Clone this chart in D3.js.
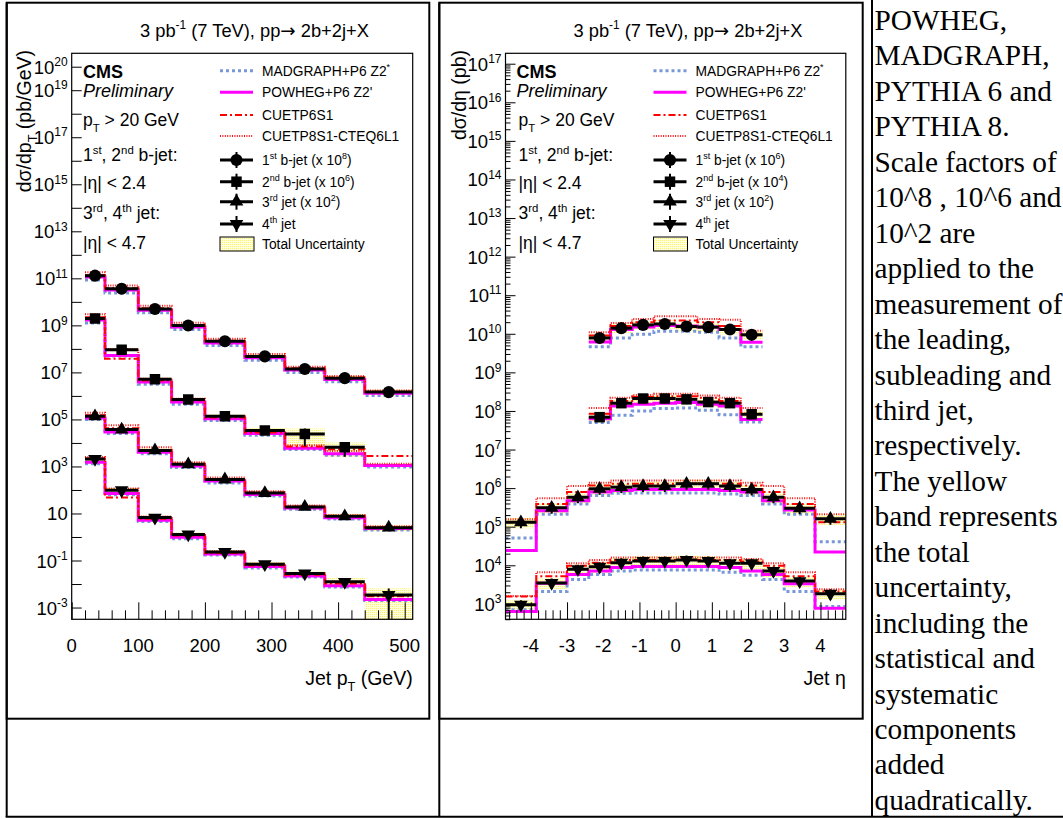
<!DOCTYPE html>
<html><head><meta charset="utf-8">
<script src="https://cdn.jsdelivr.net/npm/d3@7"></script>
<style>
html,body{margin:0;padding:0;background:#fff;overflow:hidden;}
svg{display:block;}
</style></head><body>
<svg id="c" width="1063" height="818" font-family='"Liberation Sans",Arial,Helvetica,sans-serif'></svg>
<script>
// ---------------- DATA ----------------
// Left panel: jet pT (GeV)
const ptEdges = [20, 50, 100, 150, 200, 260, 320, 380, 440, 512];
const ptJet1Data     = [1.3e11, 3.6e10, 5.0e9, 9.8e8, 2.1e8, 4.8e7, 1.4e7, 5.7e6, 1.45e6];
const ptJet1Unc      = [0.15, 0.15, 0.15, 0.15, 0.15, 0.18, 0.2, 0.25, 0.3];
const ptJet1Madgraph = [8.5e10, 2.4e10, 3.4e9, 6.6e8, 1.4e8, 3.3e7, 9.8e6, 4.0e6, 1.05e6];
const ptJet1Powheg   = [1.15e11, 3.2e10, 4.4e9, 8.6e8, 1.8e8, 4.2e7, 1.25e7, 5.0e6, 1.3e6];
const ptJet1P6       = [1.35e11, 3.8e10, 5.3e9, 1.0e9, 2.2e8, 5.0e7, 1.5e7, 6.0e6, 1.5e6];
const ptJet1P8       = [1.8e11, 5.0e10, 6.8e9, 1.3e9, 2.7e8, 6.0e7, 1.75e7, 7.0e6, 1.7e6];

const ptJet2Data     = [1.95e9, 9.1e7, 5.1e6, 7.1e5, 1.35e5, 3.4e4, 2.4e4, 6.5e3, null];
const ptJet2Unc      = [0.15, 0.2, 0.2, 0.2, 0.2, 0.25, 0.7, 0.6, 0];
const ptJet2Madgraph = [1.25e9, 5.0e7, 3.1e6, 4.4e5, 9.1e4, 2.1e4, 5.3e3, 3.0e3, 9.5e2];
const ptJet2Powheg   = [1.7e9, 5.2e7, 3.9e6, 5.5e5, 1.07e5, 2.5e4, 6.0e3, 3.5e3, 1.1e3];
const ptJet2P6       = [2.2e9, 3.8e7, 4.5e6, 6.5e5, 1.2e5, 2.8e4, 7.0e3, 5.4e3, 2.8e3];
const ptJet2P8       = [3.0e9, 1.0e8, 5.4e6, 7.6e5, 1.35e5, 3.2e4, 7.9e3, 4.5e3, 1.3e3];

const ptJet3Data     = [1.35e5, 3.7e4, 4.8e3, 1.23e3, 2.8e2, 74, 19, 7.6, 2.5];
const ptJet3Unc      = [0.2, 0.2, 0.2, 0.2, 0.2, 0.2, 0.2, 0.25, 0.3];
const ptJet3Madgraph = [1.0e5, 2.5e4, 3.5e3, 9.0e2, 2.0e2, 55, 15, 5.8, 2.0];
const ptJet3Powheg   = [1.15e5, 2.9e4, 4.0e3, 1.05e3, 2.4e2, 64, 17, 6.6, 2.3];
const ptJet3P6       = [1.5e5, 4.2e4, 5.0e3, 1.3e3, 2.9e2, 78, 20, 7.8, 2.6];
const ptJet3P8       = [1.9e5, 5.6e4, 6.5e3, 1.5e3, 3.4e2, 88, 22, 8.5, 2.9];

const ptJet4Data     = [2.1e3, 97, 6.7, 1.28, 0.23, 0.07, 0.028, 0.0124, 0.0034];
const ptJet4Unc      = [0.2, 0.25, 0.2, 0.2, 0.2, 0.2, 0.3, 0.45, 0.92];
const ptJet4Madgraph = [1.3e3, 62, 4.6, 0.85, 0.17, 0.048, 0.020, 0.0075, 0.0020];
const ptJet4Powheg   = [1.5e3, 70, 5.2, 0.98, 0.19, 0.055, 0.022, 0.0085, 0.0022];
const ptJet4P6       = [2.2e3, 48, 6.0, 1.15, 0.21, 0.062, 0.025, 0.0105, 0.0030];
const ptJet4P8       = [2.5e3, 115, 7.5, 1.35, 0.25, 0.072, 0.029, 0.012, 0.0033];

// Right panel: jet eta
const etaEdgesB = [-2.4, -1.8, -1.2, -0.6, 0, 0.6, 1.2, 1.8, 2.4];
const etaEdgesJ = [-4.7, -3.85, -3.0, -2.4, -1.8, -1.2, -0.6, 0, 0.6, 1.2, 1.8, 2.4, 3.0, 3.85, 4.7];

const etaJet1Data     = [7.8e9, 1.4e10, 1.7e10, 1.8e10, 1.54e10, 1.49e10, 1.29e10, 9.4e9];
const etaJet1Unc      = [0.25, 0.25, 0.25, 0.25, 0.25, 0.25, 0.25, 0.25];
const etaJet1Madgraph = [4.6e9, 7.8e9, 9.8e9, 1.17e10, 1.17e10, 1.1e10, 7.8e9, 4.6e9];
const etaJet1Powheg   = [6.1e9, 1.29e10, 1.5e10, 1.63e10, 1.6e10, 1.5e10, 1.29e10, 6.0e9];
const etaJet1P6       = [9.0e9, 1.6e10, 2.0e10, 2.2e10, 2.2e10, 2.0e10, 1.6e10, 9.5e9];
const etaJet1P8       = [1.1e10, 1.9e10, 2.4e10, 2.85e10, 2.85e10, 2.4e10, 2.3e10, 1.2e10];

const etaJet2Data     = [6.9e7, 1.59e8, 2.1e8, 2.1e8, 2.0e8, 1.7e8, 1.59e8, 8.2e7];
const etaJet2Unc      = [0.25, 0.25, 0.25, 0.25, 0.25, 0.25, 0.25, 0.25];
const etaJet2Madgraph = [5.0e7, 7.7e7, 1.0e8, 1.15e8, 1.2e8, 1.05e8, 8.0e7, 5.2e7];
const etaJet2Powheg   = [6.3e7, 1.35e8, 1.5e8, 1.58e8, 1.65e8, 1.5e8, 1.35e8, 6.0e7];
const etaJet2P6       = [8.5e7, 1.8e8, 2.3e8, 2.4e8, 2.4e8, 2.2e8, 1.8e8, 8.5e7];
const etaJet2P8       = [1.2e8, 2.2e8, 2.6e8, 2.8e8, 2.8e8, 2.5e8, 2.2e8, 1.2e8];

const etaJet3Data     = [1.3e5, 3.1e5, 5.8e5, 9.6e5, 1.06e6, 1.13e6, 1.13e6, 1.3e6, 1.3e6, 1.13e6, 9.2e5, 5.8e5, 3.0e5, 1.6e5];
const etaJet3Unc      = [0.3, 0.3, 0.3, 0.3, 0.3, 0.3, 0.3, 0.3, 0.3, 0.3, 0.3, 0.3, 0.3, 0.3];
const etaJet3Madgraph = [5.1e4, 2.1e5, 3.9e5, 6.4e5, 7.4e5, 7.5e5, 7.5e5, 7.5e5, 7.5e5, 7.0e5, 6.4e5, 3.9e5, 2.1e5, 4.1e4];
const etaJet3Powheg   = [2.4e4, 2.6e5, 4.7e5, 7.9e5, 8.7e5, 9.2e5, 9.2e5, 9.2e5, 9.2e5, 8.7e5, 7.9e5, 4.7e5, 2.7e5, 2.2e4];
const etaJet3P6       = [1.3e5, 3.9e5, 7.9e5, 1.17e6, 1.3e6, 1.3e6, 1.3e6, 1.3e6, 1.3e6, 1.3e6, 1.17e6, 7.9e5, 3.9e5, 1.3e5];
const etaJet3P8       = [1.55e5, 5.5e5, 1.13e6, 1.38e6, 1.58e6, 1.58e6, 1.58e6, 1.58e6, 1.58e6, 1.58e6, 1.38e6, 1.13e6, 5.5e5, 2.1e5];

const etaJet4Data     = [950, 3.5e3, 7.9e3, 9.2e3, 1.17e4, 1.3e4, 1.3e4, 1.38e4, 1.3e4, 1.13e4, 1.13e4, 7.1e3, 3.9e3, 1.84e3];
const etaJet4Unc      = [0.3, 0.3, 0.3, 0.3, 0.3, 0.3, 0.3, 0.3, 0.3, 0.3, 0.3, 0.3, 0.3, 0.3];
const etaJet4Madgraph = [700, 2.1e3, 4.3e3, 5.8e3, 7.1e3, 7.5e3, 7.5e3, 7.5e3, 7.5e3, 6.6e3, 5.5e3, 4.3e3, 2.1e3, 850];
const etaJet4Powheg   = [630, 3.4e3, 5.8e3, 7.1e3, 8.7e3, 9.3e3, 9.3e3, 9.3e3, 9.3e3, 8.7e3, 7.1e3, 5.8e3, 3.3e3, 770];
const etaJet4P6       = [1.56e3, 5.2e3, 9.7e3, 1.17e4, 1.38e4, 1.38e4, 1.38e4, 1.38e4, 1.38e4, 1.38e4, 1.25e4, 9.7e3, 5.2e3, 2.1e3];
const etaJet4P8       = [1.6e3, 6.6e3, 1.13e4, 1.38e4, 1.6e4, 1.6e4, 1.6e4, 1.6e4, 1.6e4, 1.6e4, 1.45e4, 1.13e4, 6.6e3, 2.4e3];

// Tick labels
const ptXTicks = [0, 100, 200, 300, 400, 500];
const ptYLabelExps = [20, 19, 17, 15, 13, 11, 9, 7, 5, 3, 1, -1, -3];
const etaXTicks = [-4, -3, -2, -1, 0, 1, 2, 3, 4];
const etaYLabelExps = [17, 16, 15, 14, 13, 12, 11, 10, 9, 8, 7, 6, 5, 4, 3];

// Texts
const headerText = "3 pb^{-1} (7 TeV), pp\u2192 2b+2j+X";
const mcLabels = ["MADGRAPH+P6 Z2^{*}", "POWHEG+P6 Z2'", "CUETP6S1", "CUETP8S1-CTEQ6L1"];
const ptDataLabels = ["1^{st} b-jet (x 10^{8})", "2^{nd} b-jet (x 10^{6})", "3^{rd} jet (x 10^{2})", "4^{th} jet"];
const etaDataLabels = ["1^{st} b-jet (x 10^{6})", "2^{nd} b-jet (x 10^{4})", "3^{rd} jet (x 10^{2})", "4^{th} jet"];
const uncLabel = "Total Uncertainty";
const infoLines = ["p_{T} > 20 GeV", "1^{st}, 2^{nd} b-jet:", "|\u03B7| < 2.4", "3^{rd}, 4^{th} jet:", "|\u03B7| < 4.7"];
const captionLines = ["POWHEG,", "MADGRAPH,", "PYTHIA 6 and", "PYTHIA 8.", "Scale factors of",
  "10^8 , 10^6 and", "10^2 are", "applied to the", "measurement of", "the leading,",
  "subleading and", "third jet,", "respectively.", "The yellow", "band represents",
  "the total", "uncertainty,", "including the", "statistical and", "systematic",
  "components", "added", "quadratically."];

// ---------------- DRAWING ----------------
const svg = d3.select('#c');
const defs = svg.append('defs');
const pat = defs.append('pattern').attr('id', 'uncPat').attr('width', 2).attr('height', 2)
  .attr('patternUnits', 'userSpaceOnUse');
pat.append('rect').attr('width', 2).attr('height', 2).attr('fill', '#ffffe2');
pat.append('rect').attr('x', 0).attr('y', 0).attr('width', 1).attr('height', 1).attr('fill', '#fff25c');

function rich(textSel, str, fs) {
  const parts = str.split(/(\^\{[^}]*\}|_\{[^}]*\}|\u2192)/).filter(s => s.length);
  let cur = 0;
  parts.forEach(p => {
    let t = p, s = 0, small = false;
    if (p.startsWith('^{')) { t = p.slice(2, -1); s = -0.42 * fs; small = true; }
    else if (p.startsWith('_{')) { t = p.slice(2, -1); s = 0.33 * fs; small = true; }
    const ts = textSel.append('tspan').text(t);
    if (s - cur !== 0) ts.attr('dy', s - cur);
    if (small) ts.attr('font-size', (0.65 * fs).toFixed(1));
    if (p === '\u2192') ts.attr('font-family', '"DejaVu Sans",sans-serif');
    cur = s;
  });
  return textSel;
}
function label(g, x, y, str, fs, opts = {}) {
  const t = g.append('text').attr('x', x).attr('y', y).attr('font-size', fs);
  if (opts.anchor) t.attr('text-anchor', opts.anchor);
  if (opts.weight) t.attr('font-weight', opts.weight);
  if (opts.style) t.attr('font-style', opts.style);
  if (opts.transform) t.attr('transform', opts.transform).attr('x', 0).attr('y', 0);
  return rich(t, str, fs);
}

const mcStyles = [
  { stroke: '#7897d8', width: 3, dash: '3,3' },
  { stroke: '#ff00ff', width: 3, dash: null },
  { stroke: '#ff0000', width: 2, dash: '7,3,2,3' },
  { stroke: '#ff1010', width: 2, dash: '1,1.4' }
];
const markerTypes = [
  { sym: d3.symbolCircle, size: 115, rot: 0 },
  { sym: d3.symbolSquare, size: 110, rot: 0 },
  { sym: d3.symbolTriangle, size: 80, rot: 0 },
  { sym: d3.symbolTriangle, size: 80, rot: 180 }
];
function applyStyle(sel, st) {
  sel.attr('fill', 'none').attr('stroke', st.stroke).attr('stroke-width', st.width);
  if (st.dash) sel.attr('stroke-dasharray', st.dash);
  return sel;
}

function drawPanel(p) {
  const g = svg.append('g');
  const x = d3.scaleLinear().domain(p.xDomain).range([p.left, p.right]);
  const y = d3.scaleLog().domain(p.yDomain).range([p.bottom, p.top]);
  defs.append('clipPath').attr('id', p.id).append('rect')
    .attr('x', p.left).attr('y', p.top).attr('width', p.right - p.left).attr('height', p.bottom - p.top);
  const plot = g.append('g').attr('clip-path', `url(#${p.id})`);
  const yMin = p.yDomain[0] * 0.3;

  // uncertainty bands
  p.series.forEach(s => {
    s.data.forEach((v, i) => {
      if (v == null || !s.unc[i]) return;
      const hi = v * (1 + s.unc[i]), lo = Math.max(v * (1 - s.unc[i]), yMin);
      plot.append('rect').attr('x', x(s.edges[i])).attr('width', x(s.edges[i + 1]) - x(s.edges[i]))
        .attr('y', y(hi)).attr('height', y(lo) - y(hi)).attr('fill', 'url(#uncPat)');
    });
  });
  // MC step histograms
  const line = d3.line().x(d => x(d[0])).y(d => y(d[1]));
  mcStyles.forEach((st, k) => {
    p.series.forEach(s => {
      const pts = [];
      s.mc[k].forEach((v, i) => { if (v != null) pts.push([s.edges[i], v], [s.edges[i + 1], v]); });
      applyStyle(plot.append('path').attr('d', line(pts)), st);
    });
  });
  // data
  p.series.forEach((s, si) => {
    const mt = markerTypes[si];
    s.data.forEach((v, i) => {
      if (v == null) return;
      const cx = x((s.edges[i] + s.edges[i + 1]) / 2);
      plot.append('line').attr('x1', x(s.edges[i])).attr('x2', x(s.edges[i + 1]))
        .attr('y1', y(v)).attr('y2', y(v)).attr('stroke', '#000').attr('stroke-width', 3);
      const lo = Math.max(v * (1 - s.unc[i]), yMin);
      plot.append('line').attr('x1', cx).attr('x2', cx).attr('y1', y(v * (1 + s.unc[i]))).attr('y2', y(lo))
        .attr('stroke', '#000').attr('stroke-width', 2);
      plot.append('path').attr('d', d3.symbol(mt.sym, mt.size)())
        .attr('transform', `translate(${cx},${y(v)}) rotate(${mt.rot})`).attr('fill', '#000');
    });
  });

  // axes ticks
  const yMajor = d3.range(p.yExpRange[0], p.yExpRange[1] + 1).map(e => Math.pow(10, e));
  const ax = g.append('g').attr('transform', `translate(${p.left},0)`)
    .call(d3.axisLeft(y).tickValues(yMajor).tickSizeInner(-10).tickSizeOuter(0).tickFormat(''));
  ax.select('.domain').remove();
  if (p.yMinor) {
    const minors = [];
    d3.range(p.yExpRange[0] - 1, p.yExpRange[1] + 1).forEach(e => {
      for (let m = 2; m <= 9; m++) { const v = m * Math.pow(10, e); if (v > p.yDomain[0] && v < p.yDomain[1]) minors.push(v); }
    });
    const am = g.append('g').attr('transform', `translate(${p.left},0)`)
      .call(d3.axisLeft(y).tickValues(minors).tickSizeInner(-5).tickSizeOuter(0).tickFormat(''));
    am.select('.domain').remove();
  }
  const bx = g.append('g').attr('transform', `translate(0,${p.bottom})`)
    .call(d3.axisBottom(x).tickValues(p.xMajor).tickSizeInner(-17).tickSizeOuter(0).tickFormat(''));
  bx.select('.domain').remove();
  const bm = g.append('g').attr('transform', `translate(0,${p.bottom})`)
    .call(d3.axisBottom(x).tickValues(p.xMinor).tickSizeInner(-9).tickSizeOuter(0).tickFormat(''));
  bm.select('.domain').remove();
  g.selectAll('.tick line').attr('stroke', '#000').attr('stroke-width', 1);

  // frame
  g.append('rect').attr('x', p.left).attr('y', p.top).attr('width', p.right - p.left)
    .attr('height', p.bottom - p.top).attr('fill', 'none').attr('stroke', '#000').attr('stroke-width', 1.2);

  // tick labels
  p.yLabelExps.forEach(e => {
    const s = e === 1 ? '10' : `10^{${e}}`;
    label(g, p.left - 4, y(Math.pow(10, e)) + 7, s, 18.5, { anchor: 'end' });
  });
  p.xLabels.forEach(v => {
    label(g, x(v), 651.5, String(v), 18.5, { anchor: 'middle' });
  });
  // axis titles
  label(g, p.right, 685, p.xTitle, 19.5, { anchor: 'end' });
  label(g, 0, 0, p.yTitle, 19.5, { anchor: 'end', transform: `translate(${p.yTitleX},50) rotate(-90)` });

  // header
  label(g, p.dx + 140, 36.5, headerText, 18.3);
  // CMS / info
  label(g, p.dx + 83, 78, 'CMS', 18, { weight: 'bold' });
  label(g, p.dx + 83, 97, 'Preliminary', 18, { style: 'italic' });
  const infoY = [126, 161, 189, 219, 249];
  infoLines.forEach((t, i) => label(g, p.dx + 83 + (p.dx ? 2 : 0), infoY[i], t, 17.5));

  // legend
  const rows = [70.7, 92.3, 115, 136, 160, 181.7, 201.7, 224, 244];
  const lx1 = p.dx + 220, lx2 = p.dx + 253, tx = p.dx + 262;
  mcStyles.forEach((st, k) => {
    applyStyle(g.append('line').attr('x1', lx1).attr('x2', lx2).attr('y1', rows[k]).attr('y2', rows[k]), st);
    label(g, tx, rows[k] + 5, mcLabels[k], 13.8);
  });
  p.dataLabels.forEach((t, k) => {
    const ry = rows[4 + k], mt = markerTypes[k], cx = (lx1 + lx2) / 2;
    g.append('line').attr('x1', lx1).attr('x2', lx2).attr('y1', ry).attr('y2', ry).attr('stroke', '#000').attr('stroke-width', 3);
    g.append('line').attr('x1', cx).attr('x2', cx).attr('y1', ry - 8).attr('y2', ry + 8).attr('stroke', '#000').attr('stroke-width', 2);
    g.append('path').attr('d', d3.symbol(mt.sym, mt.size)()).attr('transform', `translate(${cx},${ry}) rotate(${mt.rot})`).attr('fill', '#000');
    label(g, tx, ry + 5, t, 13.8);
  });
  g.append('rect').attr('x', lx1).attr('y', 237).attr('width', 34).attr('height', 14)
    .attr('fill', 'url(#uncPat)').attr('stroke', '#000').attr('stroke-width', 1);
  label(g, tx, 249, uncLabel, 13.8);
}

function range(a, b, step) { return d3.range(a, b, step); }

drawPanel({
  id: 'clipPt', dx: 0, left: 71.7, right: 412.7, top: 53.3, bottom: 619.3,
  xDomain: [0, 512], yDomain: [Math.pow(10, -3.5), Math.pow(10, 20.57)], yExpRange: [-3, 20], yMinor: false,
  xMajor: ptXTicks, xMinor: range(20, 512, 20).filter(v => v % 100 !== 0),
  yLabelExps: ptYLabelExps, xLabels: ptXTicks,
  xTitle: 'Jet p_{T} (GeV)', yTitle: 'd\u03C3/dp_{T} (pb/GeV)', yTitleX: 31,
  dataLabels: ptDataLabels,
  series: [
    { edges: ptEdges, data: ptJet1Data, unc: ptJet1Unc, mc: [ptJet1Madgraph, ptJet1Powheg, ptJet1P6, ptJet1P8] },
    { edges: ptEdges, data: ptJet2Data, unc: ptJet2Unc, mc: [ptJet2Madgraph, ptJet2Powheg, ptJet2P6, ptJet2P8] },
    { edges: ptEdges, data: ptJet3Data, unc: ptJet3Unc, mc: [ptJet3Madgraph, ptJet3Powheg, ptJet3P6, ptJet3P8] },
    { edges: ptEdges, data: ptJet4Data, unc: ptJet4Unc, mc: [ptJet4Madgraph, ptJet4Powheg, ptJet4P6, ptJet4P8] }
  ]
});

drawPanel({
  id: 'clipEta', dx: 433.5, left: 505.5, right: 845.8, top: 53.3, bottom: 619.3,
  xDomain: [-4.7, 4.7], yDomain: [Math.pow(10, 2.6), Math.pow(10, 17.27)], yExpRange: [3, 17], yMinor: true,
  xMajor: etaXTicks, xMinor: range(-46, 47, 2).filter(k => k % 10 !== 0).map(k => k / 10),
  yLabelExps: etaYLabelExps, xLabels: etaXTicks,
  xTitle: 'Jet \u03B7', yTitle: 'd\u03C3/d\u03B7 (pb)', yTitleX: 466,
  dataLabels: etaDataLabels,
  series: [
    { edges: etaEdgesB, data: etaJet1Data, unc: etaJet1Unc, mc: [etaJet1Madgraph, etaJet1Powheg, etaJet1P6, etaJet1P8] },
    { edges: etaEdgesB, data: etaJet2Data, unc: etaJet2Unc, mc: [etaJet2Madgraph, etaJet2Powheg, etaJet2P6, etaJet2P8] },
    { edges: etaEdgesJ, data: etaJet3Data, unc: etaJet3Unc, mc: [etaJet3Madgraph, etaJet3Powheg, etaJet3P6, etaJet3P8] },
    { edges: etaEdgesJ, data: etaJet4Data, unc: etaJet4Unc, mc: [etaJet4Madgraph, etaJet4Powheg, etaJet4P6, etaJet4P8] }
  ]
});

// table / image frames
const frames = svg.append('g').attr('fill', 'none').attr('stroke', '#000').attr('stroke-width', 2);
frames.append('rect').attr('x', 6.7).attr('y', 2.7).attr('width', 429.3 - 6.7).attr('height', 718.7 - 2.7);
frames.append('rect').attr('x', 439.3).attr('y', 2.7).attr('width', 862.7 - 439.3).attr('height', 718.7 - 2.7);
frames.append('line').attr('x1', 6.7).attr('x2', 6.7).attr('y1', 2.7).attr('y2', 817);
frames.append('line').attr('x1', 439.3).attr('x2', 439.3).attr('y1', 2.7).attr('y2', 817);
frames.append('line').attr('x1', 872).attr('x2', 872).attr('y1', 0).attr('y2', 817);
frames.append('line').attr('x1', 5.7).attr('x2', 1063).attr('y1', 816.7).attr('y2', 816.7);

// caption
const cap = svg.append('g').attr('font-family', '"Liberation Serif","Times New Roman",Times,serif');
captionLines.forEach((t, i) => {
  cap.append('text').attr('x', 874.5).attr('y', 30 + i * 35.45).attr('font-size', 29.3).text(t);
});
</script>
</body></html>
